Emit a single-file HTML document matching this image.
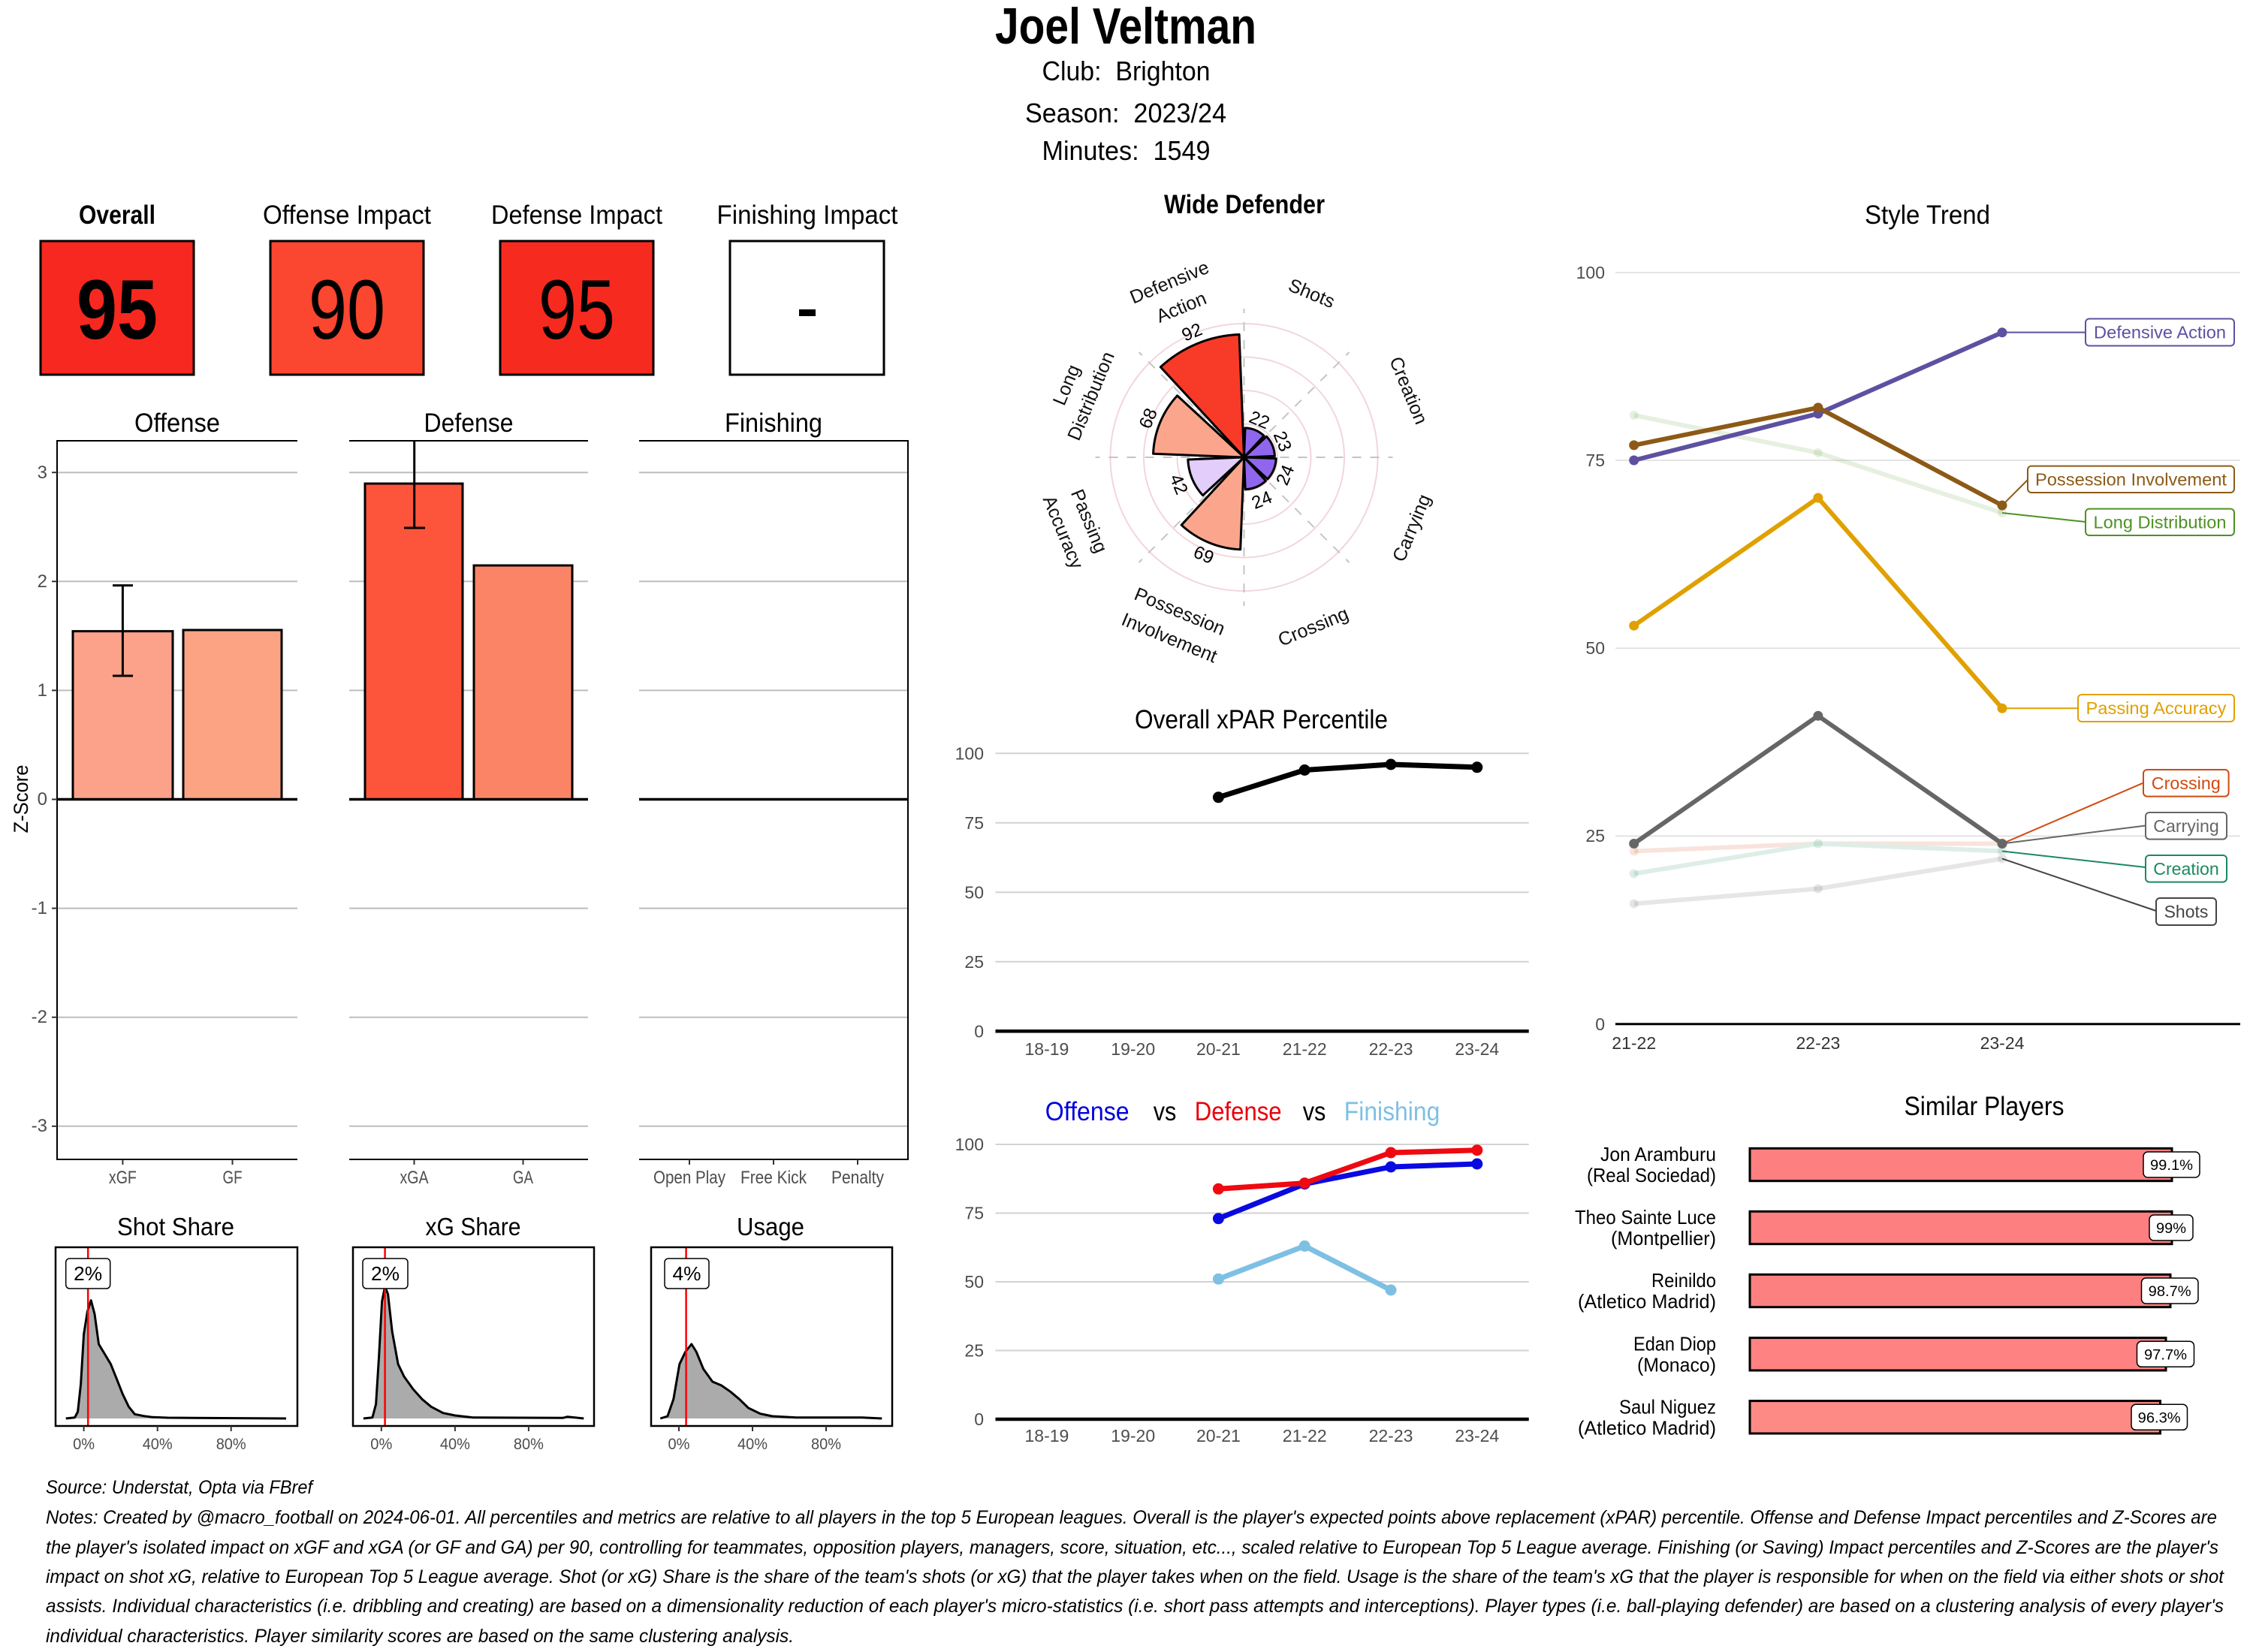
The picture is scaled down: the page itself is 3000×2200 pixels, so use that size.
<!DOCTYPE html>
<html><head><meta charset="utf-8">
<style>
html,body{margin:0;padding:0;background:#fff;}
svg{display:block;}
text{font-family:"Liberation Sans",sans-serif;}
.pre{white-space:pre;}
</style></head>
<body>
<svg width="3000" height="2200" viewBox="0 0 3000 2200" xmlns="http://www.w3.org/2000/svg">
<rect x="0" y="0" width="3000" height="2200" fill="#fff"/>

<!-- ===== Header ===== -->
<text x="1499" y="58" font-size="68" font-weight="bold" text-anchor="middle" textLength="348" lengthAdjust="spacingAndGlyphs">Joel Veltman</text>
<text class="pre" x="1499.5" y="107" font-size="36" text-anchor="middle" textLength="224" lengthAdjust="spacingAndGlyphs">Club:  Brighton</text>
<text class="pre" x="1499" y="163" font-size="36" text-anchor="middle" textLength="268" lengthAdjust="spacingAndGlyphs">Season:  2023/24</text>
<text class="pre" x="1499.5" y="213" font-size="36" text-anchor="middle" textLength="224" lengthAdjust="spacingAndGlyphs">Minutes:  1549</text>

<!-- ===== Score boxes ===== -->
<text x="156" y="298" font-size="35" font-weight="bold" text-anchor="middle" textLength="102" lengthAdjust="spacingAndGlyphs">Overall</text>
<text x="462" y="298" font-size="35" text-anchor="middle" textLength="224" lengthAdjust="spacingAndGlyphs">Offense Impact</text>
<text x="768" y="298" font-size="35" text-anchor="middle" textLength="228" lengthAdjust="spacingAndGlyphs">Defense Impact</text>
<text x="1075" y="298" font-size="35" text-anchor="middle" textLength="241" lengthAdjust="spacingAndGlyphs">Finishing Impact</text>

<rect x="54" y="321" width="204" height="178" fill="#f6281f" stroke="#000" stroke-width="3"/>
<rect x="360" y="321" width="204" height="178" fill="#fb4630" stroke="#000" stroke-width="3"/>
<rect x="666" y="321" width="204" height="178" fill="#f72a1f" stroke="#000" stroke-width="3"/>
<rect x="972" y="321" width="205" height="178" fill="#fff" stroke="#000" stroke-width="3"/>
<text x="156" y="451" font-size="112" font-weight="bold" text-anchor="middle" textLength="108" lengthAdjust="spacingAndGlyphs">95</text>
<text x="462" y="451" font-size="112" text-anchor="middle" textLength="102" lengthAdjust="spacingAndGlyphs">90</text>
<text x="768" y="451" font-size="112" text-anchor="middle" textLength="102" lengthAdjust="spacingAndGlyphs">95</text>
<rect x="1064" y="412" width="22" height="9" fill="#000"/>

<!-- ===== Z-score bar charts ===== -->
<text x="236" y="575" font-size="35" text-anchor="middle" textLength="114" lengthAdjust="spacingAndGlyphs">Offense</text>
<text x="624" y="575" font-size="35" text-anchor="middle" textLength="119" lengthAdjust="spacingAndGlyphs">Defense</text>
<text x="1030" y="575" font-size="35" text-anchor="middle" textLength="130" lengthAdjust="spacingAndGlyphs">Finishing</text>

<g stroke="#bdbdbd" stroke-width="2">
  <line x1="76" y1="629.2" x2="396" y2="629.2"/><line x1="76" y1="774.3" x2="396" y2="774.3"/><line x1="76" y1="919.4" x2="396" y2="919.4"/>
  <line x1="76" y1="1209.6" x2="396" y2="1209.6"/><line x1="76" y1="1354.7" x2="396" y2="1354.7"/><line x1="76" y1="1499.8" x2="396" y2="1499.8"/>
  <line x1="465" y1="629.2" x2="783" y2="629.2"/><line x1="465" y1="774.3" x2="783" y2="774.3"/><line x1="465" y1="919.4" x2="783" y2="919.4"/>
  <line x1="465" y1="1209.6" x2="783" y2="1209.6"/><line x1="465" y1="1354.7" x2="783" y2="1354.7"/><line x1="465" y1="1499.8" x2="783" y2="1499.8"/>
  <line x1="851" y1="629.2" x2="1209" y2="629.2"/><line x1="851" y1="774.3" x2="1209" y2="774.3"/><line x1="851" y1="919.4" x2="1209" y2="919.4"/>
  <line x1="851" y1="1209.6" x2="1209" y2="1209.6"/><line x1="851" y1="1354.7" x2="1209" y2="1354.7"/><line x1="851" y1="1499.8" x2="1209" y2="1499.8"/>
</g>
<g stroke="#000" stroke-width="2">
  <line x1="76" y1="587" x2="396" y2="587"/><line x1="76" y1="1544" x2="396" y2="1544"/>
  <line x1="76" y1="586" x2="76" y2="1545"/>
  <line x1="465" y1="587" x2="783" y2="587"/><line x1="465" y1="1544" x2="783" y2="1544"/>
  <line x1="851" y1="587" x2="1209" y2="587"/><line x1="851" y1="1544" x2="1209" y2="1544"/>
  <line x1="1209" y1="586" x2="1209" y2="1545"/>
</g>
<g stroke="#333" stroke-width="2">
  <line x1="69" y1="629.2" x2="76" y2="629.2"/><line x1="69" y1="774.3" x2="76" y2="774.3"/><line x1="69" y1="919.4" x2="76" y2="919.4"/>
  <line x1="69" y1="1064.5" x2="76" y2="1064.5"/><line x1="69" y1="1209.6" x2="76" y2="1209.6"/><line x1="69" y1="1354.7" x2="76" y2="1354.7"/><line x1="69" y1="1499.8" x2="76" y2="1499.8"/>
  <line x1="163.4" y1="1544" x2="163.4" y2="1551"/><line x1="309.5" y1="1544" x2="309.5" y2="1551"/>
  <line x1="551.5" y1="1544" x2="551.5" y2="1551"/><line x1="696.5" y1="1544" x2="696.5" y2="1551"/>
  <line x1="918" y1="1544" x2="918" y2="1551"/><line x1="1030" y1="1544" x2="1030" y2="1551"/><line x1="1142" y1="1544" x2="1142" y2="1551"/>
</g>
<g font-size="24" fill="#4d4d4d" text-anchor="end">
  <text x="63" y="637">3</text><text x="63" y="782">2</text><text x="63" y="927">1</text><text x="63" y="1072">0</text>
  <text x="63" y="1217">-1</text><text x="63" y="1362">-2</text><text x="63" y="1507">-3</text>
</g>
<text transform="translate(37,1064) rotate(-90)" font-size="27" text-anchor="middle" textLength="91" lengthAdjust="spacingAndGlyphs">Z-Score</text>

<g stroke="#000" stroke-width="3">
  <rect x="97" y="840.6" width="133" height="223.9" fill="#fca28b"/>
  <rect x="244" y="839" width="131" height="225.5" fill="#fca384"/>
  <rect x="486" y="644" width="130" height="420.5" fill="#fc553b"/>
  <rect x="631" y="753" width="131" height="311.5" fill="#fc8466"/>
</g>
<g stroke="#000" stroke-width="3.5">
  <line x1="76" y1="1064.5" x2="396" y2="1064.5"/>
  <line x1="465" y1="1064.5" x2="783" y2="1064.5"/>
  <line x1="851" y1="1064.5" x2="1209" y2="1064.5"/>
</g>
<g stroke="#000" stroke-width="3">
  <line x1="163.4" y1="779.6" x2="163.4" y2="900"/><line x1="150" y1="779.6" x2="177" y2="779.6"/><line x1="150" y1="900" x2="177" y2="900"/>
  <line x1="551.7" y1="587" x2="551.7" y2="703"/><line x1="538" y1="703" x2="566" y2="703"/>
</g>
<g font-size="24" fill="#4d4d4d" text-anchor="middle">
  <text x="163.4" y="1576" textLength="37" lengthAdjust="spacingAndGlyphs">xGF</text>
  <text x="309.5" y="1576" textLength="26" lengthAdjust="spacingAndGlyphs">GF</text>
  <text x="551.5" y="1576" textLength="38" lengthAdjust="spacingAndGlyphs">xGA</text>
  <text x="696.5" y="1576" textLength="27" lengthAdjust="spacingAndGlyphs">GA</text>
  <text x="918" y="1576" textLength="96" lengthAdjust="spacingAndGlyphs">Open Play</text>
  <text x="1030" y="1576" textLength="88" lengthAdjust="spacingAndGlyphs">Free Kick</text>
  <text x="1142" y="1576" textLength="70" lengthAdjust="spacingAndGlyphs">Penalty</text>
</g>

<!-- ===== Density plots ===== -->
<text x="234" y="1645" font-size="33" text-anchor="middle" textLength="156" lengthAdjust="spacingAndGlyphs">Shot Share</text>
<text x="630" y="1645" font-size="33" text-anchor="middle" textLength="127" lengthAdjust="spacingAndGlyphs">xG Share</text>
<text x="1026" y="1645" font-size="33" text-anchor="middle" textLength="90" lengthAdjust="spacingAndGlyphs">Usage</text>

<g fill="#ababab" stroke="#000" stroke-width="3" stroke-linejoin="round">
  <path d="M87.7,1889 L99.6,1887.7 L103.6,1880 L107.6,1843.3 L111.6,1776.7 L116.4,1746.7 L121.2,1731.7 L126,1750 L131.5,1790 L139.5,1803.3 L147.5,1816.7 L155.5,1836.7 L163.4,1856.7 L171.4,1873.3 L179.4,1883.3 L191.3,1885.7 L203.3,1887.3 L223.2,1888 L381,1889"/>
  <path d="M483.9,1889 L495.9,1887.7 L500.6,1870 L504.6,1806.7 L508.6,1733.3 L512.6,1713.3 L516.6,1723.3 L522.2,1773.3 L530.1,1816.7 L538.1,1833.3 L550.1,1850 L562,1863.3 L574,1873.3 L589.9,1881.7 L605.9,1885 L629.8,1887.7 L749.4,1888.3 L755.7,1886.7 L777.3,1889"/>
  <path d="M879.3,1889 L888.9,1886 L896.8,1863.3 L904.8,1816.7 L912.8,1800 L920.8,1790 L927.1,1800 L936.7,1823.3 L948.7,1840 L960.6,1845 L972.6,1853.3 L984.5,1863.3 L996.5,1875 L1012.4,1882.7 L1028.4,1886 L1060.3,1887.7 L1148,1887.7 L1174.3,1889"/>
</g>
<g stroke="#ff0000" stroke-width="2.5">
  <line x1="117.2" y1="1661" x2="117.2" y2="1899"/>
  <line x1="512.6" y1="1661" x2="512.6" y2="1899"/>
  <line x1="913.6" y1="1661" x2="913.6" y2="1899"/>
</g>
<g fill="none" stroke="#000" stroke-width="2.5">
  <rect x="74" y="1661" width="322" height="238"/>
  <rect x="470" y="1661" width="321" height="238"/>
  <rect x="867" y="1661" width="321" height="238"/>
</g>
<g fill="#fff" stroke="#000" stroke-width="1.5">
  <rect x="87.7" y="1676" width="59" height="40" rx="5"/>
  <rect x="483" y="1676" width="60" height="40" rx="5"/>
  <rect x="885" y="1676" width="59" height="40" rx="5"/>
</g>
<g font-size="26" text-anchor="middle">
  <text x="117.2" y="1705" textLength="38" lengthAdjust="spacingAndGlyphs">2%</text>
  <text x="513" y="1705" textLength="38" lengthAdjust="spacingAndGlyphs">2%</text>
  <text x="914.5" y="1705" textLength="38" lengthAdjust="spacingAndGlyphs">4%</text>
</g>
<g stroke="#333" stroke-width="2">
  <line x1="111.6" y1="1899" x2="111.6" y2="1906"/><line x1="209.7" y1="1899" x2="209.7" y2="1906"/><line x1="307.7" y1="1899" x2="307.7" y2="1906"/>
  <line x1="507.8" y1="1899" x2="507.8" y2="1906"/><line x1="605.9" y1="1899" x2="605.9" y2="1906"/><line x1="703.9" y1="1899" x2="703.9" y2="1906"/>
  <line x1="904" y1="1899" x2="904" y2="1906"/><line x1="1002" y1="1899" x2="1002" y2="1906"/><line x1="1100" y1="1899" x2="1100" y2="1906"/>
</g>
<g font-size="21" fill="#4d4d4d" text-anchor="middle">
  <text x="111.6" y="1930" textLength="29" lengthAdjust="spacingAndGlyphs">0%</text>
  <text x="209.7" y="1930" textLength="40" lengthAdjust="spacingAndGlyphs">40%</text>
  <text x="307.7" y="1930" textLength="40" lengthAdjust="spacingAndGlyphs">80%</text>
  <text x="507.8" y="1930" textLength="29" lengthAdjust="spacingAndGlyphs">0%</text>
  <text x="605.9" y="1930" textLength="40" lengthAdjust="spacingAndGlyphs">40%</text>
  <text x="703.9" y="1930" textLength="40" lengthAdjust="spacingAndGlyphs">80%</text>
  <text x="904" y="1930" textLength="29" lengthAdjust="spacingAndGlyphs">0%</text>
  <text x="1002" y="1930" textLength="40" lengthAdjust="spacingAndGlyphs">40%</text>
  <text x="1100" y="1930" textLength="40" lengthAdjust="spacingAndGlyphs">80%</text>
</g>

<!-- ===== Radar ===== -->
<text x="1657" y="284" font-size="35" font-weight="bold" text-anchor="middle" textLength="214" lengthAdjust="spacingAndGlyphs">Wide Defender</text>
<g fill="none" stroke="#f2d6da" stroke-width="2">
  <circle cx="1656.5" cy="609" r="44.5"/>
  <circle cx="1656.5" cy="609" r="89"/>
  <circle cx="1656.5" cy="609" r="133.5"/>
  <circle cx="1656.5" cy="609" r="178"/>
</g>
<g stroke="#c4c4c4" stroke-width="2" stroke-dasharray="12 12">
  <line x1="1656.5" y1="609" x2="1656.5" y2="411"/>
  <line x1="1656.5" y1="609" x2="1656.5" y2="807"/>
  <line x1="1656.5" y1="609" x2="1854.5" y2="609"/>
  <line x1="1656.5" y1="609" x2="1458.5" y2="609"/>
  <line x1="1656.5" y1="609" x2="1796.5" y2="469"/>
  <line x1="1656.5" y1="609" x2="1516.5" y2="469"/>
  <line x1="1656.5" y1="609" x2="1796.5" y2="749"/>
  <line x1="1656.5" y1="609" x2="1516.5" y2="749"/>
</g>
<g stroke="#000" stroke-width="3" stroke-linejoin="round">
  <path d="M1656.5,609 L1658.04,569.87 A39.16,39.16 0 0 1 1683.08,580.24 Z" fill="#9066ee"/>
  <path d="M1656.5,609 L1686.56,581.21 A40.94,40.94 0 0 1 1697.41,607.39 Z" fill="#9066ee"/>
  <path d="M1656.5,609 L1699.19,610.68 A42.72,42.72 0 0 1 1687.87,638.0 Z" fill="#9066ee"/>
  <path d="M1656.5,609 L1685.5,640.37 A42.72,42.72 0 0 1 1658.18,651.69 Z" fill="#9066ee"/>
  <path d="M1656.5,609 L1651.68,731.73 A122.82,122.82 0 0 1 1573.13,699.19 Z" fill="#fba68c"/>
  <path d="M1656.5,609 L1601.6,659.75 A74.76,74.76 0 0 1 1581.8,611.94 Z" fill="#e2cdfb"/>
  <path d="M1656.5,609 L1535.55,604.25 A121.04,121.04 0 0 1 1567.62,526.84 Z" fill="#fba68c"/>
  <path d="M1656.5,609 L1545.34,488.75 A163.76,163.76 0 0 1 1650.07,445.37 Z" fill="#f83a28"/>
</g>
<g font-size="24" text-anchor="middle" fill="#000">
  <text x="1677.2" y="558.9" dy="0.35em" transform="rotate(22.5 1677.2 558.9)">22</text>
  <text x="1708.1" y="587.6" dy="0.35em" transform="rotate(67.5 1708.1 587.6)">23</text>
  <text x="1711" y="632.5" dy="0.35em" transform="rotate(-67.5 1711 632.5)">24</text>
  <text x="1680" y="665.5" dy="0.35em" transform="rotate(-22.5 1680 665.5)">24</text>
  <text x="1603" y="738.5" dy="0.35em" transform="rotate(22.5 1603 738.5)">69</text>
  <text x="1570" y="644.8" dy="0.35em" transform="rotate(67.5 1570 644.8)">42</text>
  <text x="1528.5" y="557" dy="0.35em" transform="rotate(-67.5 1528.5 557)">68</text>
  <text x="1587" y="442" dy="0.35em" transform="rotate(-22.5 1587 442)">92</text>
</g>
<g font-size="25" text-anchor="middle" fill="#111">
  <text x="1746.7" y="390.3" dy="0.35em" transform="rotate(22.5 1746.7 390.3)">Shots</text>
  <text x="1875.9" y="519.8" dy="0.35em" transform="rotate(67.5 1875.9 519.8)">Creation</text>
  <text x="1879.3" y="702.9" dy="0.35em" transform="rotate(-67.5 1879.3 702.9)">Carrying</text>
  <text x="1748.5" y="834.2" dy="0.35em" transform="rotate(-22.5 1748.5 834.2)">Crossing</text>
  <text x="1571" y="813.9" dy="0.35em" transform="rotate(22.5 1571 813.9)">Possession</text>
  <text x="1557.3" y="849" dy="0.35em" transform="rotate(22.5 1557.3 849)">Involvement</text>
  <text x="1450.6" y="693.7" dy="0.35em" transform="rotate(67.5 1450.6 693.7)">Passing</text>
  <text x="1416" y="708.5" dy="0.35em" transform="rotate(67.5 1416 708.5)">Accuracy</text>
  <text x="1419.6" y="512.4" dy="0.35em" transform="rotate(-67.5 1419.6 512.4)">Long</text>
  <text x="1452.3" y="527.2" dy="0.35em" transform="rotate(-67.5 1452.3 527.2)">Distribution</text>
  <text x="1557" y="375.5" dy="0.35em" transform="rotate(-22.5 1557 375.5)">Defensive</text>
  <text x="1572.8" y="408.8" dy="0.35em" transform="rotate(-22.5 1572.8 408.8)">Action</text>
</g>

<!-- ===== Overall xPAR Percentile ===== -->
<text x="1679.5" y="970" font-size="35" text-anchor="middle" textLength="337" lengthAdjust="spacingAndGlyphs">Overall xPAR Percentile</text>
<g stroke="#d2d2d2" stroke-width="2">
  <line x1="1325.5" y1="1003.3" x2="2035.7" y2="1003.3"/>
  <line x1="1325.5" y1="1095.8" x2="2035.7" y2="1095.8"/>
  <line x1="1325.5" y1="1188.3" x2="2035.7" y2="1188.3"/>
  <line x1="1325.5" y1="1280.8" x2="2035.7" y2="1280.8"/>
</g>
<line x1="1325.5" y1="1373.3" x2="2035.7" y2="1373.3" stroke="#000" stroke-width="4.5"/>
<g font-size="23" fill="#4d4d4d" text-anchor="end">
  <text x="1310" y="1011.3">100</text><text x="1310" y="1103.8">75</text><text x="1310" y="1196.3">50</text><text x="1310" y="1288.8">25</text><text x="1310" y="1381.3">0</text>
</g>
<g font-size="23" fill="#4d4d4d" text-anchor="middle">
  <text x="1393.9" y="1405">18-19</text><text x="1508.7" y="1405">19-20</text><text x="1622.4" y="1405">20-21</text>
  <text x="1737.2" y="1405">21-22</text><text x="1852" y="1405">22-23</text><text x="1966.8" y="1405">23-24</text>
</g>
<polyline points="1622.4,1061.8 1737.2,1025.5 1852,1018 1966.8,1021.8" fill="none" stroke="#000" stroke-width="7" stroke-linejoin="round"/>
<g fill="#000">
  <circle cx="1622.4" cy="1061.8" r="7.5"/><circle cx="1737.2" cy="1025.5" r="7.5"/><circle cx="1852" cy="1018" r="7.5"/><circle cx="1966.8" cy="1021.8" r="7.5"/>
</g>

<!-- ===== Offense vs Defense vs Finishing ===== -->
<g font-size="35">
  <text x="1391.8" y="1492" fill="#0000dd" textLength="111.8" lengthAdjust="spacingAndGlyphs">Offense</text>
  <text x="1535.7" y="1492" fill="#000" textLength="30.6" lengthAdjust="spacingAndGlyphs">vs</text>
  <text x="1590.8" y="1492" fill="#e8000b" textLength="115.8" lengthAdjust="spacingAndGlyphs">Defense</text>
  <text x="1734.7" y="1492" fill="#000" textLength="30.6" lengthAdjust="spacingAndGlyphs">vs</text>
  <text x="1789.8" y="1492" fill="#7ec0e4" textLength="127.5" lengthAdjust="spacingAndGlyphs">Finishing</text>
</g>
<g stroke="#d2d2d2" stroke-width="2">
  <line x1="1325.5" y1="1524" x2="2035.7" y2="1524"/>
  <line x1="1325.5" y1="1615.5" x2="2035.7" y2="1615.5"/>
  <line x1="1325.5" y1="1707" x2="2035.7" y2="1707"/>
  <line x1="1325.5" y1="1798.5" x2="2035.7" y2="1798.5"/>
</g>
<line x1="1325.5" y1="1890" x2="2035.7" y2="1890" stroke="#000" stroke-width="4.5"/>
<g font-size="23" fill="#4d4d4d" text-anchor="end">
  <text x="1310" y="1532">100</text><text x="1310" y="1623.5">75</text><text x="1310" y="1715">50</text><text x="1310" y="1806.5">25</text><text x="1310" y="1898">0</text>
</g>
<g font-size="23" fill="#4d4d4d" text-anchor="middle">
  <text x="1393.9" y="1920">18-19</text><text x="1508.7" y="1920">19-20</text><text x="1622.4" y="1920">20-21</text>
  <text x="1737.2" y="1920">21-22</text><text x="1852" y="1920">22-23</text><text x="1966.8" y="1920">23-24</text>
</g>
<polyline points="1622.4,1703.3 1737.2,1659.4 1852,1718" fill="none" stroke="#7ec0e4" stroke-width="7" stroke-linejoin="round"/>
<g fill="#7ec0e4"><circle cx="1622.4" cy="1703.3" r="7.5"/><circle cx="1737.2" cy="1659.4" r="7.5"/><circle cx="1852" cy="1718" r="7.5"/></g>
<polyline points="1622.4,1622.8 1737.2,1576.7 1852,1554 1966.8,1550" fill="none" stroke="#0a0ae0" stroke-width="7" stroke-linejoin="round"/>
<g fill="#0a0ae0"><circle cx="1622.4" cy="1622.8" r="7.5"/><circle cx="1737.2" cy="1576.7" r="7.5"/><circle cx="1852" cy="1554" r="7.5"/><circle cx="1966.8" cy="1550" r="7.5"/></g>
<polyline points="1622.4,1583.3 1737.2,1575.6 1852,1535 1966.8,1531.7" fill="none" stroke="#ee0a10" stroke-width="7" stroke-linejoin="round"/>
<g fill="#ee0a10"><circle cx="1622.4" cy="1583.3" r="7.5"/><circle cx="1737.2" cy="1575.6" r="7.5"/><circle cx="1852" cy="1535" r="7.5"/><circle cx="1966.8" cy="1531.7" r="7.5"/></g>

<!-- ===== Style Trend ===== -->
<text x="2566.5" y="298" font-size="35" text-anchor="middle" textLength="167" lengthAdjust="spacingAndGlyphs">Style Trend</text>
<g stroke="#dcdcdc" stroke-width="1.5">
  <line x1="2151" y1="363" x2="2983" y2="363"/>
  <line x1="2151" y1="613" x2="2983" y2="613"/>
  <line x1="2151" y1="863.2" x2="2983" y2="863.2"/>
  <line x1="2151" y1="1113.4" x2="2983" y2="1113.4"/>
</g>
<line x1="2151" y1="1363.7" x2="2983" y2="1363.7" stroke="#000" stroke-width="3"/>
<g font-size="23" fill="#4d4d4d" text-anchor="end">
  <text x="2137" y="371">100</text><text x="2137" y="621">75</text><text x="2137" y="871">50</text><text x="2137" y="1121">25</text><text x="2137" y="1372">0</text>
</g>
<g font-size="23" fill="#333" text-anchor="middle">
  <text x="2175.7" y="1397">21-22</text><text x="2420.9" y="1397">22-23</text><text x="2666" y="1397">23-24</text>
</g>
<!-- faint lines -->
<g fill="none" stroke-width="6" stroke-linejoin="round" opacity="0.14">
  <polyline points="2175.7,552.9 2420.9,603 2666,683" stroke="#4d9221"/>
  <polyline points="2175.7,1133.5 2420.9,1123.5 2666,1123.5" stroke="#d04a0f"/>
  <polyline points="2175.7,1163.5 2420.9,1123.5 2666,1133.5" stroke="#1b8a5e"/>
  <polyline points="2175.7,1203.5 2420.9,1183.5 2666,1143.5" stroke="#555"/>
</g>
<g opacity="0.14">
  <g fill="#4d9221"><circle cx="2175.7" cy="552.9" r="6"/><circle cx="2420.9" cy="603" r="6"/><circle cx="2666" cy="683" r="6"/></g>
  <g fill="#d04a0f"><circle cx="2175.7" cy="1133.5" r="6"/><circle cx="2420.9" cy="1123.5" r="6"/><circle cx="2666" cy="1123.5" r="6"/></g>
  <g fill="#1b8a5e"><circle cx="2175.7" cy="1163.5" r="6"/><circle cx="2420.9" cy="1123.5" r="6"/><circle cx="2666" cy="1133.5" r="6"/></g>
  <g fill="#555"><circle cx="2175.7" cy="1203.5" r="6"/><circle cx="2420.9" cy="1183.5" r="6"/><circle cx="2666" cy="1143.5" r="6"/></g>
</g>
<!-- leader lines -->
<g stroke-width="2" fill="none">
  <line x1="2666" y1="442.6" x2="2777" y2="442.6" stroke="#5e50a1"/>
  <line x1="2666" y1="673" x2="2700" y2="639" stroke="#8c5a16"/>
  <line x1="2666" y1="683" x2="2777" y2="695" stroke="#4d9221"/>
  <line x1="2666" y1="943.3" x2="2767" y2="943.3" stroke="#e0a100"/>
  <line x1="2666" y1="1123.5" x2="2854" y2="1042.6" stroke="#d04a0f"/>
  <line x1="2666" y1="1123.5" x2="2857" y2="1099.5" stroke="#666"/>
  <line x1="2666" y1="1133.5" x2="2857" y2="1155" stroke="#1b8a5e"/>
  <line x1="2666" y1="1143.5" x2="2871" y2="1213" stroke="#444"/>
</g>
<!-- bold lines -->
<g fill="none" stroke-width="6" stroke-linejoin="round">
  <polyline points="2175.7,1123.5 2420.9,953.3 2666,1123.5" stroke="#666"/>
  <polyline points="2175.7,833.2 2420.9,663 2666,943.3" stroke="#e0a100"/>
  <polyline points="2175.7,613 2420.9,550.9 2666,442.8" stroke="#5e50a1"/>
  <polyline points="2175.7,592.9 2420.9,542.9 2666,673" stroke="#8c5a16"/>
</g>
<g fill="#666"><circle cx="2175.7" cy="1123.5" r="6.5"/><circle cx="2420.9" cy="953.3" r="6.5"/><circle cx="2666" cy="1123.5" r="6.5"/></g>
<g fill="#e0a100"><circle cx="2175.7" cy="833.2" r="6.5"/><circle cx="2420.9" cy="663" r="6.5"/><circle cx="2666" cy="943.3" r="6.5"/></g>
<g fill="#5e50a1"><circle cx="2175.7" cy="613" r="6.5"/><circle cx="2420.9" cy="550.9" r="6.5"/><circle cx="2666" cy="442.8" r="6.5"/></g>
<g fill="#8c5a16"><circle cx="2175.7" cy="592.9" r="6.5"/><circle cx="2420.9" cy="542.9" r="6.5"/><circle cx="2666" cy="673" r="6.5"/></g>
<!-- label boxes -->
<g fill="#fff" stroke-width="2">
  <rect x="2777" y="424.5" width="198" height="36" rx="5" stroke="#5e50a1"/>
  <rect x="2700" y="620.6" width="275" height="35.4" rx="5" stroke="#8c5a16"/>
  <rect x="2777" y="677.6" width="198" height="35.4" rx="5" stroke="#4d9221"/>
  <rect x="2767" y="925" width="208" height="36" rx="5" stroke="#e0a100"/>
  <rect x="2854" y="1025" width="113.6" height="35.6" rx="5" stroke="#d04a0f"/>
  <rect x="2857" y="1082" width="108" height="35.6" rx="5" stroke="#666"/>
  <rect x="2857" y="1139" width="108" height="35.6" rx="5" stroke="#1b8a5e"/>
  <rect x="2871" y="1196" width="80" height="36" rx="5" stroke="#444"/>
</g>
<g font-size="23" text-anchor="middle">
  <text x="2876" y="450.5" fill="#5e50a1" textLength="176" lengthAdjust="spacingAndGlyphs">Defensive Action</text>
  <text x="2837.5" y="646.5" fill="#8c5a16" textLength="255" lengthAdjust="spacingAndGlyphs">Possession Involvement</text>
  <text x="2876" y="703.5" fill="#4d9221" textLength="177" lengthAdjust="spacingAndGlyphs">Long Distribution</text>
  <text x="2871" y="951" fill="#e0a100" textLength="187" lengthAdjust="spacingAndGlyphs">Passing Accuracy</text>
  <text x="2910.8" y="1051" fill="#d04a0f" textLength="92" lengthAdjust="spacingAndGlyphs">Crossing</text>
  <text x="2911" y="1108" fill="#666" textLength="87.5" lengthAdjust="spacingAndGlyphs">Carrying</text>
  <text x="2911" y="1165" fill="#1b8a5e" textLength="87.5" lengthAdjust="spacingAndGlyphs">Creation</text>
  <text x="2911" y="1222" fill="#444" textLength="58.8" lengthAdjust="spacingAndGlyphs">Shots</text>
</g>

<!-- ===== Similar Players ===== -->
<text x="2642" y="1485" font-size="35" text-anchor="middle" textLength="213" lengthAdjust="spacingAndGlyphs">Similar Players</text>
<g stroke="#000" stroke-width="3">
  <rect x="2330" y="1529.3" width="562" height="43.4" fill="#fd7f7f"/>
  <rect x="2330" y="1613.3" width="562" height="43.4" fill="#fd7f7f"/>
  <rect x="2330" y="1697.3" width="560" height="43.4" fill="#fd8080"/>
  <rect x="2330" y="1781.6" width="554" height="43.4" fill="#fd8281"/>
  <rect x="2330" y="1865.6" width="546.5" height="43.4" fill="#fd8a85"/>
</g>
<g fill="#fff" stroke="#000" stroke-width="1.5">
  <rect x="2854" y="1534" width="75" height="34" rx="6"/>
  <rect x="2862" y="1618" width="58" height="34" rx="6"/>
  <rect x="2851.5" y="1702" width="75.5" height="34" rx="6"/>
  <rect x="2845.5" y="1786.3" width="76" height="34" rx="6"/>
  <rect x="2838" y="1870.3" width="74.5" height="34" rx="6"/>
</g>
<g font-size="19" text-anchor="middle">
  <text x="2891.5" y="1558" textLength="57" lengthAdjust="spacingAndGlyphs">99.1%</text>
  <text x="2891" y="1642" textLength="40" lengthAdjust="spacingAndGlyphs">99%</text>
  <text x="2889.2" y="1726" textLength="57" lengthAdjust="spacingAndGlyphs">98.7%</text>
  <text x="2883.5" y="1810.3" textLength="57" lengthAdjust="spacingAndGlyphs">97.7%</text>
  <text x="2875.2" y="1894.3" textLength="57" lengthAdjust="spacingAndGlyphs">96.3%</text>
</g>
<g font-size="26" text-anchor="end">
  <text x="2285" y="1546" textLength="154" lengthAdjust="spacingAndGlyphs">Jon Aramburu</text>
  <text x="2285" y="1574" textLength="172" lengthAdjust="spacingAndGlyphs">(Real Sociedad)</text>
  <text x="2285" y="1630" textLength="188" lengthAdjust="spacingAndGlyphs">Theo Sainte Luce</text>
  <text x="2285" y="1658" textLength="140" lengthAdjust="spacingAndGlyphs">(Montpellier)</text>
  <text x="2285" y="1714" textLength="86" lengthAdjust="spacingAndGlyphs">Reinildo</text>
  <text x="2285" y="1742" textLength="184" lengthAdjust="spacingAndGlyphs">(Atletico Madrid)</text>
  <text x="2285" y="1798.3" textLength="110" lengthAdjust="spacingAndGlyphs">Edan Diop</text>
  <text x="2285" y="1826.3" textLength="105" lengthAdjust="spacingAndGlyphs">(Monaco)</text>
  <text x="2285" y="1882.3" textLength="129" lengthAdjust="spacingAndGlyphs">Saul Niguez</text>
  <text x="2285" y="1910.3" textLength="184" lengthAdjust="spacingAndGlyphs">(Atletico Madrid)</text>
</g>

<!-- ===== Notes ===== -->
<g font-size="25" font-style="italic" fill="#000">
  <text x="61" y="1989" textLength="355" lengthAdjust="spacingAndGlyphs">Source: Understat, Opta via FBref</text>
  <text x="61" y="2029" textLength="2891" lengthAdjust="spacingAndGlyphs">Notes: Created by @macro_football on 2024-06-01. All percentiles and metrics are relative to all players in the top 5 European leagues. Overall is the player's expected points above replacement (xPAR) percentile. Offense and Defense Impact percentiles and Z-Scores are</text>
  <text x="61" y="2069" textLength="2893" lengthAdjust="spacingAndGlyphs">the player's isolated impact on xGF and xGA (or GF and GA) per 90, controlling for teammates, opposition players, managers, score, situation, etc..., scaled relative to European Top 5 League average. Finishing (or Saving) Impact percentiles and Z-Scores are the player's</text>
  <text x="61" y="2108" textLength="2900" lengthAdjust="spacingAndGlyphs">impact on shot xG, relative to European Top 5 League average. Shot (or xG) Share is the share of the team's shots (or xG) that the player takes when on the field. Usage is the share of the team's xG that the player is responsible for when on the field via either shots or shot</text>
  <text x="61" y="2147" textLength="2900" lengthAdjust="spacingAndGlyphs">assists. Individual characteristics (i.e. dribbling and creating) are based on a dimensionality reduction of each player's micro-statistics (i.e. short pass attempts and interceptions). Player types (i.e. ball-playing defender) are based on a clustering analysis of every player's</text>
  <text x="61" y="2187" textLength="996" lengthAdjust="spacingAndGlyphs">individual characteristics. Player similarity scores are based on the same clustering analysis.</text>
</g>
</svg>
</body></html>
